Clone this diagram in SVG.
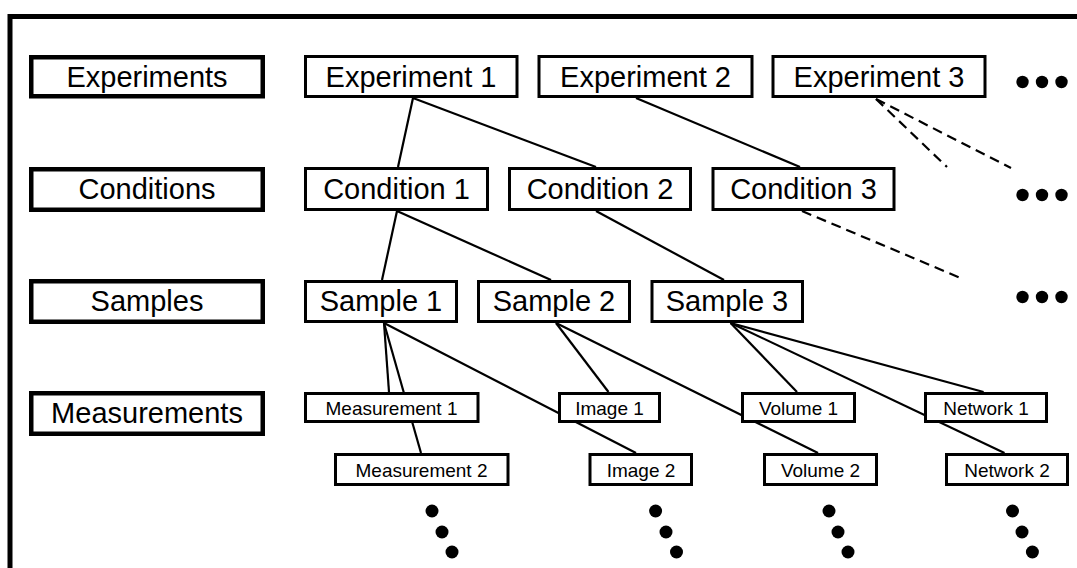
<svg xmlns="http://www.w3.org/2000/svg" width="1077" height="568" viewBox="0 0 1077 568">
<style>
.lbl rect{fill:#fff;stroke:#000;stroke-width:4.5}
.node rect{fill:#fff;stroke:#000;stroke-width:3}
text{font-family:"Liberation Sans",Arial,sans-serif;fill:#000;text-anchor:middle}
.big{font-size:29px}
.small{font-size:19px}
#connectors line{stroke:#000;stroke-width:2.2}
#connectors .dash{stroke-dasharray:10 6}
.dots circle{fill:#000}
</style>
<rect x="0" y="0" width="1077" height="568" fill="#fff"/>
<rect id="frame" x="10" y="16.5" width="1100" height="600" fill="none" stroke="#000" stroke-width="5"/>
<g id="connectors">
<line x1="413" y1="98" x2="398" y2="167"/>
<line x1="413" y1="98" x2="596" y2="167"/>
<line x1="636" y1="98" x2="800" y2="167"/>
<line x1="397" y1="211" x2="382" y2="280"/>
<line x1="397" y1="211" x2="551" y2="280"/>
<line x1="596" y1="211" x2="724" y2="280"/>
<line class="dash" x1="876" y1="99" x2="947" y2="167"/>
<line class="dash" x1="876" y1="99" x2="1011" y2="168"/>
<line class="dash" x1="802" y1="211" x2="963" y2="279"/>
<line x1="384" y1="323" x2="389" y2="392"/>
<line x1="384" y1="323" x2="421" y2="453"/>
<line x1="384" y1="323" x2="636" y2="453"/>
<line x1="556" y1="323" x2="608.5" y2="392"/>
<line x1="556" y1="323" x2="818" y2="453"/>
<line x1="730.6" y1="323" x2="797" y2="392"/>
<line x1="730.6" y1="323" x2="1004.5" y2="453"/>
<line x1="730.6" y1="323" x2="983.6" y2="392"/>
</g>
<g id="label-experiments" class="lbl"><rect x="31.25" y="57.25" width="231.5" height="39"/><text class="big" x="147" y="87">Experiments</text></g>
<g id="label-conditions" class="lbl"><rect x="31.25" y="169.25" width="231.5" height="40.5"/><text class="big" x="147" y="199">Conditions</text></g>
<g id="label-samples" class="lbl"><rect x="31.25" y="281.25" width="231.5" height="40.5"/><text class="big" x="147" y="311">Samples</text></g>
<g id="label-measurements" class="lbl"><rect x="31.25" y="393.25" width="231.5" height="40.5"/><text class="big" x="147" y="423">Measurements</text></g>

<g id="experiment1" class="node"><rect x="305.5" y="56.5" width="211.5" height="40"/><text class="big" x="411" y="87">Experiment 1</text></g>
<g id="experiment2" class="node"><rect x="539" y="56.5" width="213" height="40"/><text class="big" x="645.5" y="87">Experiment 2</text></g>
<g id="experiment3" class="node"><rect x="773" y="56.5" width="212" height="40"/><text class="big" x="879" y="87">Experiment 3</text></g>

<g id="condition1" class="node"><rect x="305.5" y="168.5" width="182" height="41"/><text class="big" x="396.5" y="199">Condition 1</text></g>
<g id="condition2" class="node"><rect x="509.5" y="168.5" width="181" height="41"/><text class="big" x="600" y="199">Condition 2</text></g>
<g id="condition3" class="node"><rect x="713" y="168.5" width="181" height="41"/><text class="big" x="803.5" y="199">Condition 3</text></g>

<g id="sample1" class="node"><rect x="305.5" y="281.5" width="151" height="40"/><text class="big" x="381" y="311">Sample 1</text></g>
<g id="sample2" class="node"><rect x="478.5" y="281.5" width="151" height="40"/><text class="big" x="554" y="311">Sample 2</text></g>
<g id="sample3" class="node"><rect x="652" y="281.5" width="150.5" height="40"/><text class="big" x="727" y="311">Sample 3</text></g>

<g id="measurement1" class="node"><rect x="305.5" y="393.5" width="172.5" height="28"/><text class="small" x="391.5" y="414.5">Measurement 1</text></g>
<g id="measurement2" class="node"><rect x="335.5" y="454.5" width="172.5" height="30"/><text class="small" x="421.5" y="476.5">Measurement 2</text></g>
<g id="image1" class="node"><rect x="559.5" y="393.5" width="100" height="28"/><text class="small" x="609.5" y="414.5">Image 1</text></g>
<g id="image2" class="node"><rect x="590" y="454.5" width="101.5" height="30"/><text class="small" x="641" y="476.5">Image 2</text></g>
<g id="volume1" class="node"><rect x="742.5" y="393.5" width="112" height="28"/><text class="small" x="798.5" y="414.5">Volume 1</text></g>
<g id="volume2" class="node"><rect x="764.5" y="454.5" width="112" height="30"/><text class="small" x="820.5" y="476.5">Volume 2</text></g>
<g id="network1" class="node"><rect x="925.5" y="393.5" width="121" height="28"/><text class="small" x="986" y="414.5">Network 1</text></g>
<g id="network2" class="node"><rect x="946.5" y="454.5" width="121" height="30"/><text class="small" x="1007" y="476.5">Network 2</text></g>

<g id="more-experiments" class="dots"><circle cx="1022.5" cy="82" r="6.2"/><circle cx="1042" cy="82" r="6.2"/><circle cx="1061.5" cy="82" r="6.2"/></g>
<g id="more-conditions" class="dots"><circle cx="1022.5" cy="195" r="6.2"/><circle cx="1042" cy="195" r="6.2"/><circle cx="1061.5" cy="195" r="6.2"/></g>
<g id="more-samples" class="dots"><circle cx="1022.5" cy="297" r="6.2"/><circle cx="1042" cy="297" r="6.2"/><circle cx="1061.5" cy="297" r="6.2"/></g>
<g id="more-measurements" class="dots"><circle cx="432" cy="511" r="6.5"/><circle cx="442" cy="532" r="6.5"/><circle cx="452" cy="552" r="6.5"/></g>
<g id="more-images" class="dots"><circle cx="655.6" cy="511" r="6.5"/><circle cx="666" cy="532" r="6.5"/><circle cx="676.5" cy="552" r="6.5"/></g>
<g id="more-volumes" class="dots"><circle cx="829" cy="511" r="6.5"/><circle cx="838" cy="532" r="6.5"/><circle cx="848" cy="552" r="6.5"/></g>
<g id="more-networks" class="dots"><circle cx="1012.5" cy="511" r="6.5"/><circle cx="1022" cy="532" r="6.5"/><circle cx="1032.4" cy="552" r="6.5"/></g>
</svg>
